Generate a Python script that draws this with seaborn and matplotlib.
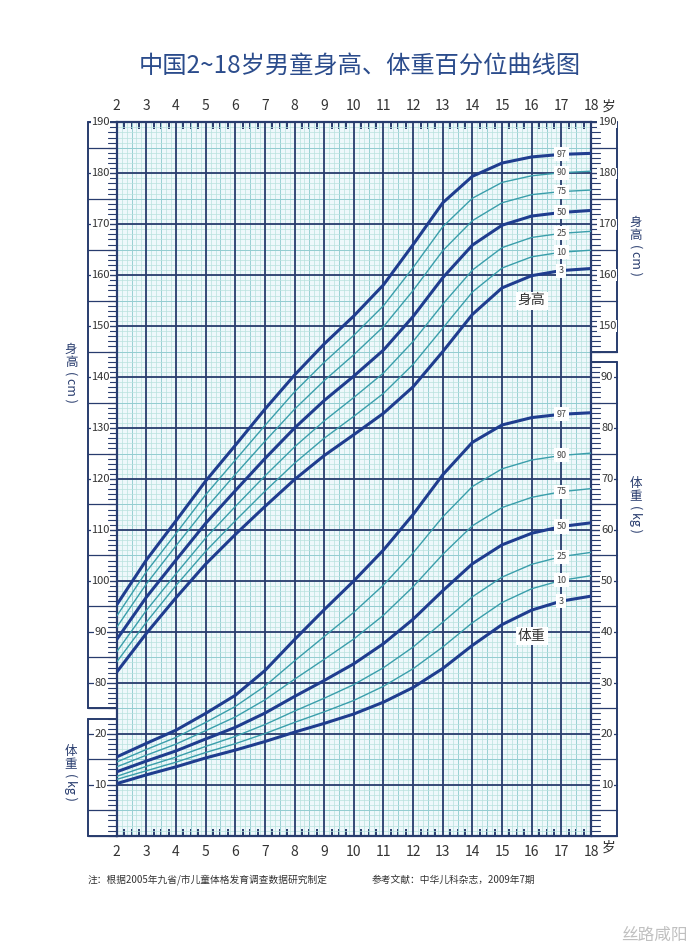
import numpy as np
import pandas as pd
import matplotlib
matplotlib.use('Agg')
from matplotlib import pyplot as plt
from matplotlib.ticker import FixedLocator
import seaborn as sns

## Data: China 2009 boys growth standard ##

ages = list(range(2, 19))
pcts = [3, 10, 25, 50, 75, 90, 97]

height = {
    3:  [82.1, 89.7, 96.7, 103.3, 109.1, 114.6, 119.9, 124.6, 128.7, 132.9, 138.1, 145.0, 152.3, 157.5, 159.9, 160.9, 161.3],
    10: [84.1, 91.9, 99.1, 105.8, 111.8, 117.6, 123.1, 128.0, 132.3, 136.8, 142.5, 149.6, 156.7, 161.4, 163.6, 164.5, 164.9],
    25: [86.1, 94.2, 101.4, 108.4, 114.6, 120.6, 126.3, 131.4, 136.0, 140.8, 147.0, 154.3, 161.0, 165.4, 167.4, 168.2, 168.6],
    50: [88.5, 96.8, 104.1, 111.3, 117.7, 124.0, 130.0, 135.4, 140.2, 145.3, 151.9, 159.5, 165.9, 169.8, 171.6, 172.3, 172.7],
    75: [90.9, 99.4, 106.9, 114.2, 120.9, 127.4, 133.7, 139.3, 144.4, 149.9, 157.0, 164.8, 170.7, 174.2, 175.8, 176.4, 176.7],
    90: [93.1, 101.8, 109.3, 116.9, 123.7, 130.5, 137.1, 142.9, 148.2, 154.0, 161.5, 169.5, 175.1, 178.2, 179.5, 180.1, 180.4],
    97: [95.3, 104.1, 111.8, 119.6, 126.6, 133.7, 140.4, 146.5, 152.0, 158.1, 166.0, 174.2, 179.4, 182.0, 183.2, 183.7, 183.9],
}

weight = {
    3:  [10.22, 11.94, 13.52, 15.26, 16.80, 18.48, 20.32, 22.04, 23.89, 26.21, 29.09, 32.82, 37.36, 41.43, 44.28, 46.04, 47.01],
    10: [11.06, 12.74, 14.43, 16.33, 18.06, 20.04, 22.24, 24.31, 26.55, 29.33, 32.77, 37.04, 41.80, 45.77, 48.47, 50.11, 51.02],
    25: [11.65, 13.61, 15.43, 17.52, 19.49, 21.81, 24.46, 26.98, 29.66, 32.97, 37.03, 41.90, 46.90, 50.75, 53.26, 54.77, 55.60],
    50: [12.54, 14.65, 16.64, 18.98, 21.26, 24.06, 27.33, 30.46, 33.74, 37.69, 42.49, 48.08, 53.37, 57.08, 59.35, 60.68, 61.40],
    75: [13.51, 15.80, 17.98, 20.61, 23.30, 26.66, 30.71, 34.61, 38.61, 43.27, 48.86, 55.21, 60.83, 64.40, 66.40, 67.51, 68.11],
    90: [14.46, 16.92, 19.29, 22.23, 25.36, 29.35, 34.31, 39.08, 43.85, 49.20, 55.50, 62.57, 68.53, 72.00, 73.73, 74.62, 75.08],
    97: [15.46, 18.12, 20.71, 24.00, 27.55, 32.41, 38.49, 44.35, 50.01, 56.07, 63.04, 70.83, 77.20, 80.60, 82.05, 82.70, 83.00],
}

title = '中国2~18岁男童身高、体重百分位曲线图'
note1 = '注：根据2005年九省/市儿童体格发育调查数据研究制定'
note2 = '参考文献：中华儿科杂志，2009年7期'

## Style ##

sns.set_style('white')
plt.rcParams['font.family'] = ['Noto Sans CJK SC', 'DejaVu Sans']

navy = '#283c6e'
curve_dark = '#1f3d8f'
curve_light = '#3a9eab'
txt = '#333333'

fig = plt.figure(figsize=(7, 9.5), dpi=100)
ax = fig.add_axes([0.1667, 0.1203, 0.6776, 0.7510])
ax.set_xlim(2, 18)
ax.set_ylim(50, 190)
ax.set_facecolor('#eef8fb')

## Grid ##

ax.vlines(2 + np.arange(0, 97) / 6, 50, 190, color='#b8e2de', lw=0.5, zorder=1)
ax.vlines(np.arange(2.5, 18, 1), 50, 190, color='#93cdd1', lw=0.6, zorder=1)
ax.vlines(np.arange(2, 19, 1), 50, 190, color=navy, lw=1.3, zorder=2)
ax.hlines(np.arange(50, 191, 1), 2, 18, color='#b8e2de', lw=0.5, zorder=1)
ax.hlines(np.arange(55, 191, 10), 2, 18, color='#93cdd1', lw=0.7, zorder=1)
ax.hlines(np.arange(50, 191, 10), 2, 18, color=navy, lw=1.3, zorder=2)

for s in ax.spines.values():
    s.set_color(navy)
    s.set_linewidth(1.6)

ax.set_xticks(ages)
ax.xaxis.set_minor_locator(FixedLocator([a + q for a in range(2, 18) for q in (0.25, 0.5, 0.75)]))
ax.tick_params(axis='x', which='major', length=0, labeltop=True, labelbottom=True,
               labelsize=10, labelcolor=txt, pad=7)
ax.tick_params(axis='x', which='minor', direction='in', length=5, width=1.4,
               top=True, bottom=True, color=navy)
ax.set_yticks([])

ax2 = ax.twinx()
ax2.set_ylim(0, 140)
ax2.set_yticks([])
for s in ax2.spines.values():
    s.set_visible(False)

## Curves ##

for p in pcts:
    thick = p in (3, 50, 97)
    col = curve_dark if thick else curve_light
    lw = 2.2 if thick else 1.0
    sns.lineplot(x=ages, y=height[p], ax=ax, color=col, lw=lw, zorder=5)
    sns.lineplot(x=ages, y=weight[p], ax=ax2, color=col, lw=lw, zorder=5)
    ax.text(17, height[p][15], str(p), fontsize=6.5, color='#444444', ha='center', va='center',
            zorder=6, bbox=dict(facecolor='white', edgecolor='none', pad=1.8))
    ax2.text(17, weight[p][15], str(p), fontsize=6.5, color='#444444', ha='center', va='center',
             zorder=6, bbox=dict(facecolor='white', edgecolor='none', pad=1.8))

ax.text(16, 155, '身高', fontsize=10, color=txt, ha='center', va='center', zorder=6,
        bbox=dict(facecolor='white', edgecolor='none', pad=1.5))
ax2.text(16, 39.2, '体重', fontsize=10, color=txt, ha='center', va='center', zorder=6,
         bbox=dict(facecolor='white', edgecolor='none', pad=1.5))


## Side scale boxes ##

def scale_box(axis, y0, y1, side, labels):
    tr = axis.get_yaxis_transform()
    if side == 'left':
        xo, xi, xt, xl = -0.0605, 0.0, -0.018, -0.034
    else:
        xo, xi, xt, xl = 1.0549, 1.0, 1.018, 1.034
    kw = dict(transform=tr, clip_on=False, color=navy)
    axis.plot([xo, xo], [y0, y1], lw=1.4, **kw)
    axis.plot([xo, xi], [y0, y0], lw=1.4, **kw)
    axis.plot([xo, xi], [y1, y1], lw=1.4, **kw)
    for y in range(int(np.ceil(y0 / 5.0)) * 5, int(y1) + 1, 5):
        axis.plot([xo, xi], [y, y], lw=0.9, **kw)
    for y in range(int(np.ceil(y0)), int(y1) + 1):
        axis.plot([xt, xi], [y, y], lw=0.8, **kw)
    for v in labels:
        axis.text(xl, v, str(v), transform=tr, fontsize=8, color=txt, ha='center', va='center',
                  clip_on=False, bbox=dict(facecolor='white', edgecolor='none', pad=0.5))


scale_box(ax, 75, 190, 'left', list(range(80, 191, 10)))
scale_box(ax2, 0, 23, 'left', [10, 20])
scale_box(ax, 145, 190, 'right', list(range(150, 191, 10)))
scale_box(ax2, 0, 93, 'right', list(range(10, 91, 10)))


## Axis titles, title, notes ##

def side_label(x, ytop, chars, unit):
    fig.text(x / 700, 1 - ytop / 950, '\n'.join(chars), fontsize=9, color=navy,
             ha='center', va='top', linespacing=1.05)
    fig.text(x / 700, 1 - (ytop + 28) / 950, unit, fontsize=9, color=navy,
             ha='center', va='top', rotation=-90)


side_label(71, 343, '身高', '( cm )')
side_label(71, 745, '体重', '( kg )')
side_label(636, 216, '身高', '( cm )')
side_label(636, 477, '体重', '( kg )')

fig.text(609 / 700, 1 - 107 / 950, '岁', fontsize=10, color=txt, ha='center', va='center')
fig.text(609 / 700, 1 - 848 / 950, '岁', fontsize=10, color=txt, ha='center', va='center')

fig.text(360 / 700, 1 - 66 / 950, title, fontsize=17.5, color='#2b4c8c', ha='center', va='center',
         fontweight='medium')
fig.text(88 / 700, 1 - 880 / 950, note1, fontsize=7, color=txt, ha='left', va='center')
fig.text(372 / 700, 1 - 880 / 950, note2, fontsize=7, color=txt, ha='left', va='center')
fig.text(688 / 700, 1 - 935 / 950, '丝路咸阳', fontsize=12, color='#c0c0c0', ha='right', va='center')

fig.savefig('out.png', dpi=100, facecolor='white')
